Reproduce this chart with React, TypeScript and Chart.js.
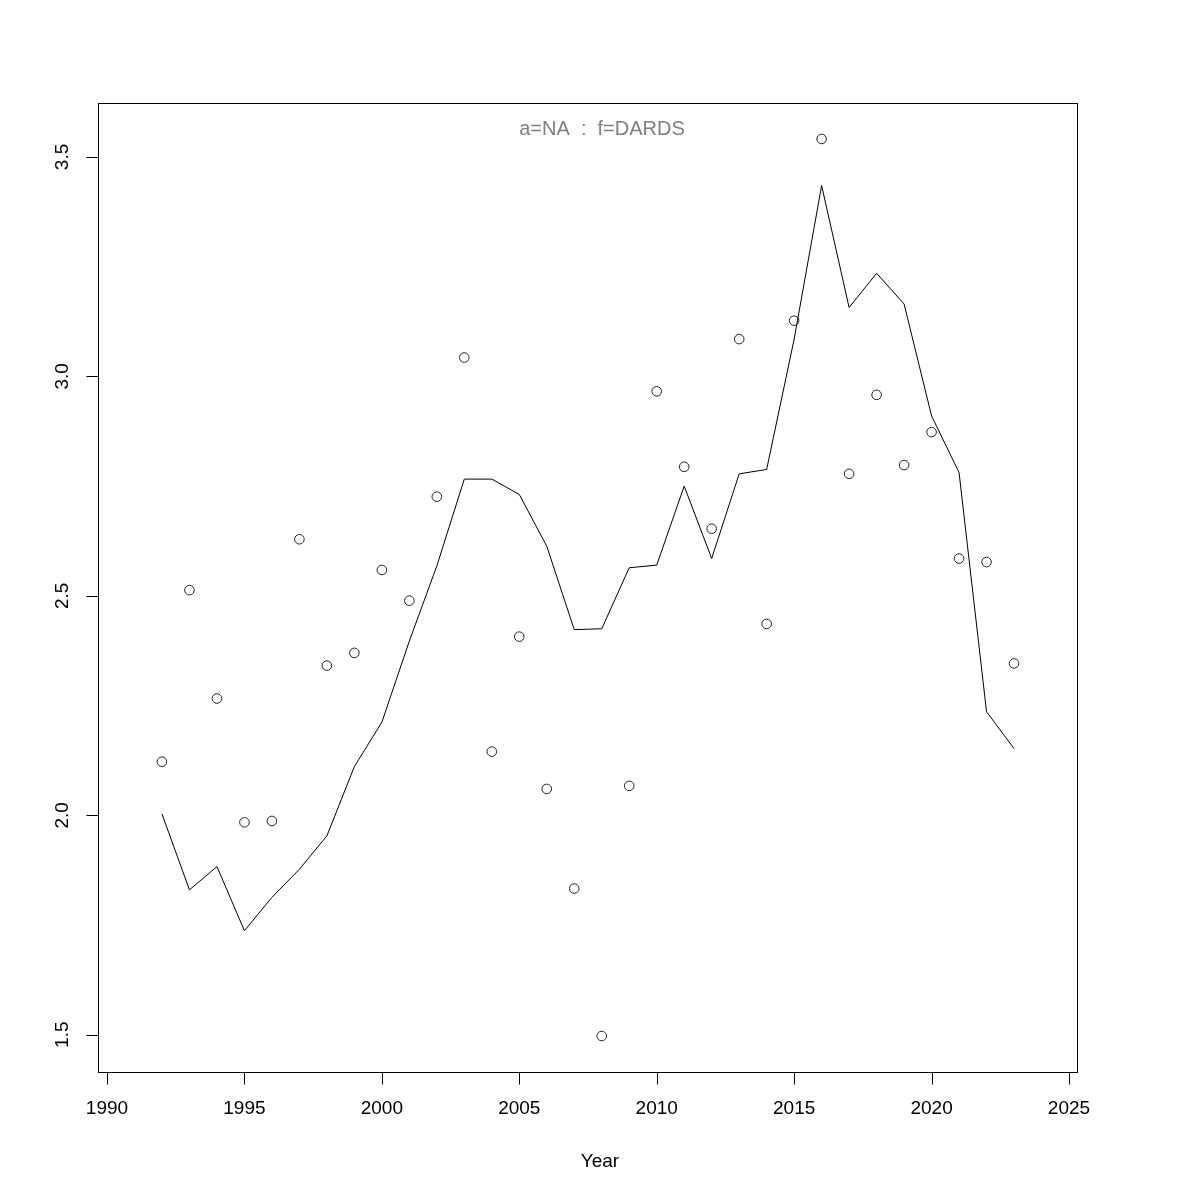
import React, { useEffect, useRef } from "react";
import { Chart, registerables } from "chart.js";

Chart.register(...registerables);

const years = [1992, 1993, 1994, 1995, 1996, 1997, 1998, 1999, 2000, 2001, 2002, 2003, 2004, 2005, 2006, 2007, 2008, 2009, 2010, 2011, 2012, 2013, 2014, 2015, 2016, 2017, 2018, 2019, 2020, 2021, 2022, 2023];
const observed = [2.122, 2.513, 2.266, 1.984, 1.987, 2.629, 2.341, 2.370, 2.559, 2.489, 2.726, 3.043, 2.145, 2.407, 2.060, 1.833, 1.497, 2.067, 2.966, 2.794, 2.653, 3.085, 2.436, 3.127, 3.541, 2.778, 2.958, 2.798, 2.873, 2.585, 2.577, 2.346];
const fitted = [2.003, 1.830, 1.883, 1.737, 1.813, 1.877, 1.953, 2.111, 2.212, 2.397, 2.568, 2.766, 2.766, 2.731, 2.613, 2.423, 2.425, 2.564, 2.570, 2.750, 2.585, 2.778, 2.788, 3.085, 3.435, 3.157, 3.235, 3.165, 2.910, 2.781, 2.236, 2.152];
const xTicks = [1990, 1995, 2000, 2005, 2010, 2015, 2020, 2025];
const yTicks = [1.5, 2.0, 2.5, 3.0, 3.5];
const yTickLabels = ["1.5", "2.0", "2.5", "3.0", "3.5"];
const titleText = "a=NA  :  f=DARDS";
const xAxisTitle = "Year";

const FONT = "19px 'Liberation Sans', Arial, Helvetica, sans-serif";
const TITLE_FONT = "20px 'Liberation Sans', Arial, Helvetica, sans-serif";

const rAxesPlugin = {
  id: "rAxes",
  afterDraw(chart: any) {
    const ctx = chart.ctx;
    const { left, right, top, bottom } = chart.chartArea;
    const xs = chart.scales.x;
    const ys = chart.scales.y;
    ctx.save();
    ctx.strokeStyle = "#000";
    ctx.lineWidth = 1;
    ctx.strokeRect(Math.round(left) + 0.5, Math.round(top) + 0.5, Math.round(right - left), Math.round(bottom - top));
    ctx.fillStyle = "#000";
    ctx.font = FONT;
    ctx.textAlign = "center";
    ctx.textBaseline = "middle";
    const by = Math.round(bottom) + 0.5;
    ctx.beginPath();
    const x0 = Math.round(xs.getPixelForValue(xTicks[0])) + 0.5;
    const x1 = Math.round(xs.getPixelForValue(xTicks[xTicks.length - 1])) + 0.5;
    ctx.moveTo(x0, by);
    ctx.lineTo(x1, by);
    for (const t of xTicks) {
      const px = Math.round(xs.getPixelForValue(t)) + 0.5;
      ctx.moveTo(px, by);
      ctx.lineTo(px, by + 12);
    }
    ctx.stroke();
    for (const t of xTicks) {
      const px = xs.getPixelForValue(t);
      ctx.fillText(String(t), px, bottom + 37);
    }
    const bx = Math.round(left) + 0.5;
    ctx.beginPath();
    const y0 = Math.round(ys.getPixelForValue(yTicks[0])) + 0.5;
    const y1 = Math.round(ys.getPixelForValue(yTicks[yTicks.length - 1])) + 0.5;
    ctx.moveTo(bx, y0);
    ctx.lineTo(bx, y1);
    for (const t of yTicks) {
      const py = Math.round(ys.getPixelForValue(t)) + 0.5;
      ctx.moveTo(bx, py);
      ctx.lineTo(bx - 12, py);
    }
    ctx.stroke();
    yTicks.forEach((t, i) => {
      const py = ys.getPixelForValue(t);
      ctx.save();
      ctx.translate(left - 35, py);
      ctx.rotate(-Math.PI / 2);
      ctx.fillText(yTickLabels[i], 0, 0);
      ctx.restore();
    });
    ctx.fillText(xAxisTitle, 600, bottom + 90);
    ctx.font = TITLE_FONT;
    ctx.fillStyle = "#808080";
    ctx.fillText(titleText, 602, top + 26);
    ctx.restore();
  },
};

export default function App() {
  const canvasRef = useRef<HTMLCanvasElement | null>(null);

  useEffect(() => {
    const canvas = canvasRef.current;
    if (!canvas) return;
    const pointData = years.map((y, i) => ({ x: y, y: observed[i] }));
    const lineData = years.map((y, i) => ({ x: y, y: fitted[i] }));
    const chart = new Chart(canvas, {
      type: "scatter",
      data: {
        datasets: [
          {
            label: "fitted",
            data: lineData,
            showLine: true,
            borderColor: "#000",
            borderWidth: 1,
            pointRadius: 0,
            pointHoverRadius: 0,
            fill: false,
            tension: 0,
          },
          {
            label: "observed",
            data: pointData,
            showLine: false,
            pointStyle: "circle",
            pointRadius: 4.8,
            pointBorderWidth: 1,
            pointBorderColor: "#222",
            pointBackgroundColor: "rgba(0,0,0,0)",
          },
        ],
      },
      options: {
        animation: false,
        responsive: false,
        maintainAspectRatio: false,
        events: [],
        layout: { padding: { left: 98, right: 123, top: 103, bottom: 128 } },
        plugins: { legend: { display: false }, tooltip: { enabled: false }, title: { display: false } },
        scales: {
          x: { type: "linear", display: false, min: 1989.6726, max: 2025.291 },
          y: { type: "linear", display: false, min: 1.415, max: 3.623 },
        },
      },
      plugins: [rAxesPlugin],
    });
    return () => chart.destroy();
  }, []);

  return (
    <div style={{ position: "absolute", left: 0, top: 0, width: 1200, height: 1200, background: "#fff" }}>
      <canvas ref={canvasRef} width={1200} height={1200} style={{ width: 1200, height: 1200, display: "block" }} />
    </div>
  );
}
